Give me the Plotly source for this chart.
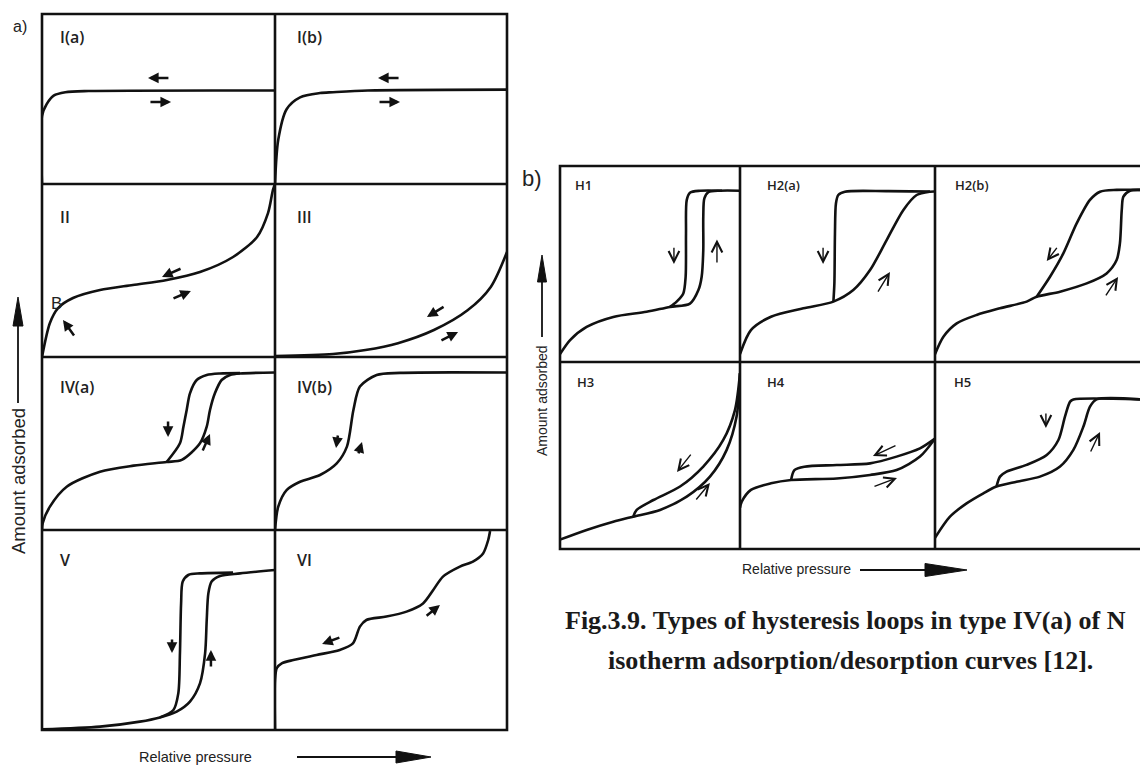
import plotly.graph_objects as go

W, H = 1140, 765

# ---------------- DATA (normalised panel coordinates) ----------------
# Panel a) isotherm types
IA_X = [0.0, 0.0, 0.02, 0.05, 0.10, 0.20, 1.0]
IA_Y = [0.0, 0.40, 0.47, 0.52, 0.54, 0.547, 0.55]

IB_X = [0.0, 0.014, 0.05, 0.108, 0.194, 0.25, 0.40, 1.0]
IB_Y = [0.0, 0.26, 0.44, 0.51, 0.535, 0.54, 0.55, 0.555]

II_X = [0.0, 0.034, 0.069, 0.133, 0.249, 0.39, 0.536, 0.678, 0.82, 0.923, 0.97, 0.991, 1.0]
II_Y = [0.0, 0.197, 0.283, 0.341, 0.387, 0.416, 0.445, 0.491, 0.578, 0.694, 0.832, 0.965, 1.0]

III_X = [0.0, 0.25, 0.39, 0.53, 0.685, 0.83, 0.93, 1.0]
III_Y = [0.005, 0.017, 0.04, 0.08, 0.156, 0.27, 0.405, 0.607]

IVA_ADS_X = [0.0, 0.003, 0.034, 0.106, 0.249, 0.393, 0.535, 0.60, 0.678, 0.707, 0.721, 0.742, 0.771, 0.807, 0.85, 1.0]
IVA_ADS_Y = [0.0, 0.04, 0.135, 0.25, 0.337, 0.372, 0.393, 0.405, 0.501, 0.597, 0.694, 0.79, 0.867, 0.896, 0.905, 0.91]
IVA_DES_X = [0.535, 0.592, 0.607, 0.621, 0.635, 0.664, 0.707, 0.764, 0.85]
IVA_DES_Y = [0.393, 0.501, 0.597, 0.694, 0.79, 0.867, 0.896, 0.905, 0.907]

IVB_X = [0.0, 0.014, 0.05, 0.108, 0.194, 0.266, 0.31, 0.338, 0.366, 0.438, 0.539, 1.0]
IVB_Y = [0.0, 0.135, 0.231, 0.279, 0.318, 0.385, 0.482, 0.694, 0.829, 0.896, 0.908, 0.91]

V_ADS_X = [0.0, 0.249, 0.42, 0.506, 0.578, 0.635, 0.678, 0.70, 0.707, 0.714, 0.728, 0.764, 0.85, 1.0]
V_ADS_Y = [0.003, 0.017, 0.042, 0.063, 0.092, 0.142, 0.233, 0.383, 0.55, 0.683, 0.742, 0.77, 0.783, 0.80]
V_DES_X = [0.506, 0.564, 0.585, 0.592, 0.597, 0.604, 0.628, 0.678, 0.82]
V_DES_Y = [0.063, 0.10, 0.183, 0.383, 0.633, 0.742, 0.775, 0.783, 0.787]

VI_X = [0.0, 0.0, 0.008, 0.029, 0.079, 0.179, 0.279, 0.336, 0.366, 0.394, 0.48, 0.567, 0.638, 0.682, 0.724, 0.797, 0.853, 0.897, 0.919, 0.927]
VI_Y = [0.0, 0.25, 0.31, 0.333, 0.35, 0.375, 0.40, 0.433, 0.517, 0.55, 0.567, 0.592, 0.633, 0.70, 0.767, 0.817, 0.842, 0.883, 0.95, 0.995]

# Panel b) hysteresis loops
H1_ADS_X = [0.0, 0.056, 0.148, 0.296, 0.481, 0.611, 0.722, 0.769, 0.787, 0.796, 0.796, 0.802, 0.824, 0.889, 1.0]
H1_ADS_Y = [0.04, 0.112, 0.179, 0.23, 0.256, 0.281, 0.298, 0.367, 0.435, 0.571, 0.741, 0.835, 0.866, 0.874, 0.874]
H1_DES_X = [0.611, 0.648, 0.685, 0.698, 0.70, 0.704, 0.722, 0.778, 0.90]
H1_DES_Y = [0.281, 0.308, 0.35, 0.435, 0.656, 0.826, 0.864, 0.874, 0.874]

H2A_ADS_X = [0.0, 0.056, 0.159, 0.325, 0.479, 0.581, 0.667, 0.752, 0.838, 0.906, 0.974, 1.0]
H2A_ADS_Y = [0.04, 0.163, 0.231, 0.274, 0.308, 0.367, 0.469, 0.622, 0.776, 0.852, 0.869, 0.87]
H2A_DES_X = [0.479, 0.484, 0.487, 0.492, 0.504, 0.538, 0.752, 0.974]
H2A_DES_Y = [0.308, 0.401, 0.656, 0.809, 0.852, 0.869, 0.872, 0.87]

H2B_ADS_X = [0.0, 0.041, 0.106, 0.203, 0.317, 0.447, 0.496, 0.61, 0.74, 0.837, 0.886, 0.902, 0.911, 0.919, 0.951, 1.0]
H2B_ADS_Y = [0.04, 0.129, 0.197, 0.24, 0.274, 0.308, 0.333, 0.359, 0.401, 0.452, 0.52, 0.605, 0.776, 0.844, 0.874, 0.878]
H2B_DES_X = [0.496, 0.561, 0.626, 0.691, 0.756, 0.805, 0.886, 1.0]
H2B_DES_Y = [0.333, 0.435, 0.554, 0.707, 0.827, 0.869, 0.878, 0.878]

H3_ADS_X = [0.0, 0.148, 0.296, 0.407, 0.556, 0.704, 0.833, 0.926, 0.981, 1.0]
H3_ADS_Y = [0.05, 0.102, 0.146, 0.173, 0.209, 0.28, 0.387, 0.53, 0.708, 0.94]
H3_DES_X = [0.407, 0.426, 0.519, 0.667, 0.796, 0.907, 0.972, 1.0]
H3_DES_Y = [0.173, 0.209, 0.262, 0.334, 0.441, 0.583, 0.743, 0.94]

H4_ADS_X = [0.0, 0.009, 0.056, 0.159, 0.262, 0.496, 0.667, 0.803, 0.923, 1.0]
H4_ADS_Y = [0.22, 0.253, 0.316, 0.351, 0.369, 0.377, 0.396, 0.422, 0.494, 0.59]
H4_DES_X = [0.262, 0.279, 0.33, 0.496, 0.667, 0.803, 0.923, 1.0]
H4_DES_Y = [0.369, 0.422, 0.44, 0.449, 0.458, 0.494, 0.538, 0.59]

H5_ADS_X = [0.0, 0.073, 0.154, 0.236, 0.30, 0.398, 0.512, 0.61, 0.675, 0.724, 0.756, 0.788, 1.0]
H5_ADS_Y = [0.06, 0.173, 0.244, 0.298, 0.334, 0.36, 0.387, 0.441, 0.53, 0.655, 0.761, 0.80, 0.80]
H5_DES_X = [0.30, 0.317, 0.349, 0.447, 0.545, 0.602, 0.634, 0.659, 0.675, 1.0]
H5_DES_Y = [0.334, 0.387, 0.414, 0.45, 0.503, 0.583, 0.708, 0.788, 0.80, 0.80]

# small direction arrows: [x_tail, y_tail, x_head, y_head]
IA_ARROWS = [[0.549, 0.624, 0.455, 0.624], [0.459, 0.482, 0.554, 0.482]]
IB_ARROWS = [[0.539, 0.624, 0.444, 0.624], [0.444, 0.482, 0.539, 0.482]]
II_ARROWS = [[0.601, 0.514, 0.515, 0.462], [0.558, 0.335, 0.639, 0.382], [0.142, 0.116, 0.09, 0.214]]
III_ARROWS = [[0.733, 0.295, 0.655, 0.231], [0.711, 0.092, 0.789, 0.145]]
IVA_ARROWS = [[0.541, 0.636, 0.541, 0.538], [0.687, 0.451, 0.721, 0.555]]
IVB_ARROWS = [[0.272, 0.555, 0.263, 0.474], [0.358, 0.434, 0.375, 0.509]]
V_ARROWS = [[0.558, 0.46, 0.558, 0.385], [0.725, 0.31, 0.725, 0.40]]
VI_ARROWS = [[0.284, 0.465, 0.203, 0.43], [0.647, 0.565, 0.711, 0.625]]

H1_ARROWS = [[0.633, 0.59, 0.633, 0.50], [0.872, 0.50, 0.872, 0.625]]
H2A_ARROWS = [[0.426, 0.59, 0.426, 0.50], [0.703, 0.352, 0.769, 0.459]]
H2B_ARROWS = [[0.60, 0.59, 0.545, 0.515], [0.829, 0.332, 0.893, 0.434]]
H3_ARROWS = [[0.733, 0.513, 0.65, 0.412], [0.75, 0.257, 0.833, 0.353]]
H4_ARROWS = [[0.805, 0.556, 0.682, 0.497], [0.682, 0.332, 0.805, 0.38]]
H5_ARROWS = [[0.541, 0.733, 0.541, 0.647], [0.756, 0.513, 0.805, 0.626]]

PANEL_LABELS = ["I(a)", "I(b)", "II", "III", "IV(a)", "IV(b)", "V", "VI",
                "H1", "H2(a)", "H2(b)", "H3", "H4", "H5"]
POINT_B_LABEL = "B"
AXIS_TITLE_Y = "Amount adsorbed"
AXIS_TITLE_X = "Relative pressure"
CAPTION_1 = "Fig.3.9. Types of hysteresis loops in type IV(a) of N"
CAPTION_2 = "isotherm adsorption/desorption curves [12]."

# ---------------- LAYOUT (pixel boxes: left, right, top, bottom) ----------------
PANELS = [
    ("a", (42, 275, 14, 184), [(IA_X, IA_Y)], IA_ARROWS, (0.069, 0.865)),
    ("a", (275, 507, 14, 184), [(IB_X, IB_Y)], IB_ARROWS, (0.086, 0.865)),
    ("a", (42, 275, 184, 357), [(II_X, II_Y)], II_ARROWS, (0.069, 0.809)),
    ("a", (275, 507, 184, 357), [(III_X, III_Y)], III_ARROWS, (0.086, 0.809)),
    ("a", (42, 275, 357, 530), [(IVA_ADS_X, IVA_ADS_Y), (IVA_DES_X, IVA_DES_Y)], IVA_ARROWS, (0.069, 0.827)),
    ("a", (275, 507, 357, 530), [(IVB_X, IVB_Y)], IVB_ARROWS, (0.086, 0.827)),
    ("a", (42, 275, 530, 730), [(V_ADS_X, V_ADS_Y), (V_DES_X, V_DES_Y)], V_ARROWS, (0.069, 0.85)),
    ("a", (275, 507, 530, 730), [(VI_X, VI_Y)], VI_ARROWS, (0.086, 0.85)),
    ("b", (560, 740, 166, 362), [(H1_ADS_X, H1_ADS_Y), (H1_DES_X, H1_DES_Y)], H1_ARROWS, (0.072, 0.903)),
    ("b", (740, 935, 166, 362), [(H2A_ADS_X, H2A_ADS_Y), (H2A_DES_X, H2A_DES_Y)], H2A_ARROWS, (0.128, 0.903)),
    ("b", (935, 1140, 166, 362), [(H2B_ADS_X, H2B_ADS_Y), (H2B_DES_X, H2B_DES_Y)], H2B_ARROWS, (0.088, 0.903)),
    ("b", (560, 740, 362, 549), [(H3_ADS_X, H3_ADS_Y), (H3_DES_X, H3_DES_Y)], H3_ARROWS, (0.083, 0.893)),
    ("b", (740, 935, 362, 549), [(H4_ADS_X, H4_ADS_Y), (H4_DES_X, H4_DES_Y)], H4_ARROWS, (0.128, 0.893)),
    ("b", (935, 1140, 362, 549), [(H5_ADS_X, H5_ADS_Y), (H5_DES_X, H5_DES_Y)], H5_ARROWS, (0.083, 0.893)),
]

INK = "#111111"
SANS = "Liberation Sans, Arial, sans-serif"
LABEL_FONT = "Open Sans, Liberation Sans, sans-serif"
SERIF = "Liberation Serif, Times New Roman, serif"


def fx(v):
    return v / W


def fy(v):
    return 1 - v / H


fig = go.Figure()
layout = dict(
    width=W, height=H, margin=dict(l=0, r=0, t=0, b=0),
    paper_bgcolor="white", plot_bgcolor="rgba(0,0,0,0)", showlegend=False,
)
annotations = []
shapes = []

for i, (grp, (l, r, t, b), curves, arrows, lab_pos) in enumerate(PANELS):
    k = "" if i == 0 else str(i + 1)
    layout["xaxis" + k] = dict(domain=[max(0.0, fx(l)), min(1.0, fx(r))], range=[0, 1],
                               visible=False, fixedrange=True, anchor="y" + k)
    layout["yaxis" + k] = dict(domain=[fy(b), fy(t)], range=[0, 1],
                               visible=False, fixedrange=True, anchor="x" + k)
    xr, yr = "x" + k, "y" + k
    for cx, cy in curves:
        fig.add_trace(go.Scatter(
            x=cx, y=cy, mode="lines", xaxis=xr, yaxis=yr, hoverinfo="skip",
            line=dict(color=INK, width=2.6, shape="spline", smoothing=0.8),
        ))
    for xt, yt, xh, yh in arrows:
        if grp == "a":
            style = dict(arrowhead=2, arrowsize=0.85, arrowwidth=2.5)
        else:
            style = dict(arrowhead=5, arrowsize=1.5, arrowwidth=1.4)
        annotations.append(dict(
            x=xh, y=yh, ax=xt, ay=yt, xref=xr, yref=yr, axref=xr, ayref=yr,
            text="", showarrow=True, arrowcolor=INK, standoff=0, startstandoff=0, **style,
        ))
    annotations.append(dict(
        x=lab_pos[0], y=lab_pos[1], xref=xr, yref=yr, text=PANEL_LABELS[i],
        showarrow=False, xanchor="left", yanchor="middle",
        font=dict(family=LABEL_FONT, size=16 if grp == "a" else 13, color="#222", weight=600),
    ))

# "B" point label in panel II
annotations.append(dict(x=0.064, y=0.312, xref="x3", yref="y3", text=POINT_B_LABEL, showarrow=False,
                        xanchor="center", yanchor="middle",
                        font=dict(family=SANS, size=17, color="#222")))

# panel borders
BW = 2.6
shapes.append(dict(type="rect", xref="paper", yref="paper", x0=fx(42), x1=fx(507), y0=fy(730), y1=fy(14),
                   line=dict(color=INK, width=BW)))
shapes.append(dict(type="line", xref="paper", yref="paper", x0=fx(275), x1=fx(275), y0=fy(730), y1=fy(14),
                   line=dict(color=INK, width=BW)))
for yy in (184, 357, 530):
    shapes.append(dict(type="line", xref="paper", yref="paper", x0=fx(42), x1=fx(507), y0=fy(yy), y1=fy(yy),
                       line=dict(color=INK, width=BW)))
shapes.append(dict(type="rect", xref="paper", yref="paper", x0=fx(560), x1=fx(1150), y0=fy(549), y1=fy(166),
                   line=dict(color=INK, width=BW)))
for xx in (740, 935):
    shapes.append(dict(type="line", xref="paper", yref="paper", x0=fx(xx), x1=fx(xx), y0=fy(549), y1=fy(166),
                       line=dict(color=INK, width=BW)))
shapes.append(dict(type="line", xref="paper", yref="paper", x0=fx(560), x1=fx(1150), y0=fy(362), y1=fy(362),
                   line=dict(color=INK, width=BW)))


def big_arrow_v(x, y_bot, y_base, y_tip, half, lw):
    shapes.append(dict(type="line", xref="paper", yref="paper", x0=fx(x), x1=fx(x), y0=fy(y_bot), y1=fy(y_base),
                       line=dict(color=INK, width=lw)))
    path = f"M {fx(x-half)} {fy(y_base)} L {fx(x)} {fy(y_tip)} L {fx(x+half)} {fy(y_base)} Z"
    shapes.append(dict(type="path", xref="paper", yref="paper", path=path, fillcolor=INK,
                       line=dict(color=INK, width=1)))


def big_arrow_h(y, x_start, x_base, x_tip, half, lw):
    shapes.append(dict(type="line", xref="paper", yref="paper", x0=fx(x_start), x1=fx(x_base), y0=fy(y), y1=fy(y),
                       line=dict(color=INK, width=lw)))
    path = f"M {fx(x_base)} {fy(y-half)} L {fx(x_tip)} {fy(y)} L {fx(x_base)} {fy(y+half)} Z"
    shapes.append(dict(type="path", xref="paper", yref="paper", path=path, fillcolor=INK,
                       line=dict(color=INK, width=1)))


big_arrow_v(18, 403, 326, 297, 5, 1.8)
big_arrow_h(757, 297, 396, 431, 6, 1.8)
big_arrow_v(542, 337, 282, 255, 4.5, 1.8)
big_arrow_h(570, 860, 925, 967, 6.5, 1.8)


def text_at(px, py, text, font, xanchor="center", angle=0):
    annotations.append(dict(x=fx(px), y=fy(py), xref="paper", yref="paper", text=text, textangle=angle,
                            showarrow=False, xanchor=xanchor, yanchor="middle", font=font))


text_at(18, 481, AXIS_TITLE_Y, dict(family=SANS, size=18.5, color="#222"), angle=-90)
text_at(195, 757, AXIS_TITLE_X, dict(family=SANS, size=14.5, color="#222"))
text_at(542, 401, AXIS_TITLE_Y, dict(family=SANS, size=14, color="#222"), angle=-90)
text_at(796, 569, AXIS_TITLE_X, dict(family=SANS, size=14, color="#222"))
text_at(20, 27, "a)", dict(family=SANS, size=16, color="#222"))
text_at(532, 178, "b)", dict(family=SANS, size=22, color="#222"))
text_at(563, 620, CAPTION_1, dict(family=SERIF, size=26, color="#1a1a1a", weight="bold"), xanchor="left")
text_at(606, 660, CAPTION_2, dict(family=SERIF, size=26, color="#1a1a1a", weight="bold"), xanchor="left")

layout["annotations"] = annotations
layout["shapes"] = shapes
fig.update_layout(**layout)
fig.write_html(
    "out.html",
    config={"displayModeBar": False},
    post_script="document.body.style.margin='0';document.body.style.overflow='hidden';",
)
